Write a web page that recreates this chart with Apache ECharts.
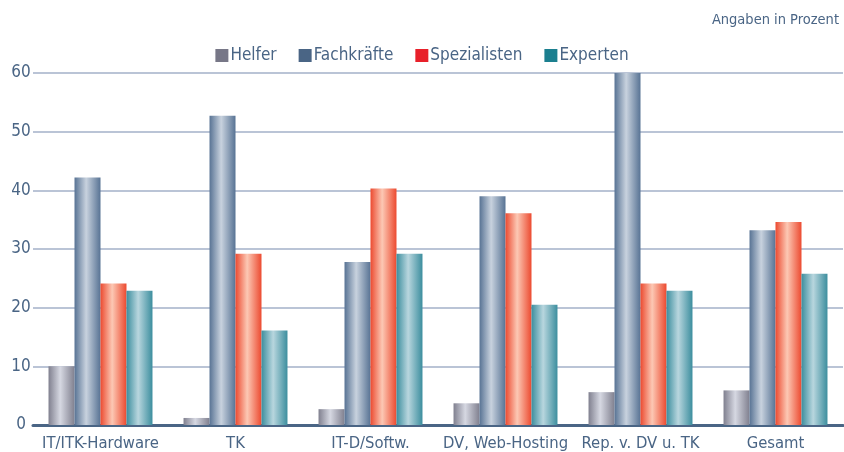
<!DOCTYPE html>
<html>
<head>
<meta charset="utf-8">
<script src="https://cdn.jsdelivr.net/npm/echarts@6/dist/echarts.min.js"></script>
<style>
  html, body { margin: 0; padding: 0; background: #fff; }
  #chart { width: 844px; height: 452px; }
</style>
</head>
<body>
<div id="chart"></div>
<script>
var categories = ['IT/ITK-Hardware', 'TK', 'IT-D/Softw.', 'DV, Web-Hosting', 'Rep. v. DV u. TK', 'Gesamt'];
var helfer = [10.0, 1.2, 2.7, 3.7, 5.6, 5.9];
var fachkraefte = [42.2, 52.7, 27.8, 39.0, 60.0, 33.2];
var spezialisten = [24.1, 29.2, 40.3, 36.1, 24.1, 34.6];
var experten = [22.9, 16.1, 29.2, 20.5, 22.9, 25.8];
var yTicks = [0, 10, 20, 30, 40, 50, 60];

var font = '"Liberation Sans Narrow", "DejaVu Sans Condensed", sans-serif';
var textColor = '#4a6585';

function grad(dark, light) {
  return new echarts.graphic.LinearGradient(0, 0, 1, 0, [
    { offset: 0, color: dark },
    { offset: 0.45, color: light },
    { offset: 1, color: dark }
  ]);
}

function bar(name, data, legendColor, dark, light) {
  return {
    name: name,
    type: 'bar',
    data: data,
    barGap: '0%',
    barCategoryGap: '23%',
    itemStyle: { color: grad(dark, light) },
    legendColor: legendColor
  };
}

var series = [
  bar('Helfer', helfer, '#777787', '#80808f', '#d6d8e2'),
  bar('Fachkräfte', fachkraefte, '#4a6585', '#587394', '#c8d2de'),
  bar('Spezialisten', spezialisten, '#e8202a', '#ec4a30', '#fcc8b4'),
  bar('Experten', experten, '#1b7f8f', '#3c8e9e', '#b8d6de')
];

var chart = echarts.init(document.getElementById('chart'));
chart.setOption({
  animation: false,
  title: {
    text: 'Angaben in Prozent',
    right: 0,
    top: 8,
    textStyle: { color: textColor, fontFamily: font, fontSize: 14.5, fontWeight: 'normal' }
  },
  legend: {
    top: 42,
    left: 'center',
    itemWidth: 13,
    itemHeight: 13,
    itemGap: 22,
    icon: 'rect',
    textStyle: { color: textColor, fontFamily: font, fontSize: 17, padding: [0, 0, 0, -3] },
    data: series.map(function (s) {
      return { name: s.name, itemStyle: { color: s.legendColor } };
    })
  },
  grid: { left: 33, right: 1, top: 73, bottom: 25 },
  xAxis: {
    type: 'category',
    data: categories,
    axisTick: { show: false },
    axisLine: { lineStyle: { color: '#4a6585', width: 3 } },
    axisLabel: { color: textColor, fontFamily: font, fontSize: 16.5, margin: 10, interval: 0 }
  },
  yAxis: {
    type: 'value',
    min: yTicks[0],
    max: yTicks[yTicks.length - 1],
    interval: 10,
    axisLine: { show: false },
    axisTick: { show: false },
    axisLabel: { color: textColor, fontFamily: font, fontSize: 17, margin: 8, align: 'center', padding: [2, 8, 0, 0] },
    splitLine: { lineStyle: { color: '#a3b1c8', width: 1.5 } }
  },
  series: series.map(function (s) {
    var o = Object.assign({}, s);
    delete o.legendColor;
    return o;
  })
});
</script>
</body>
</html>
